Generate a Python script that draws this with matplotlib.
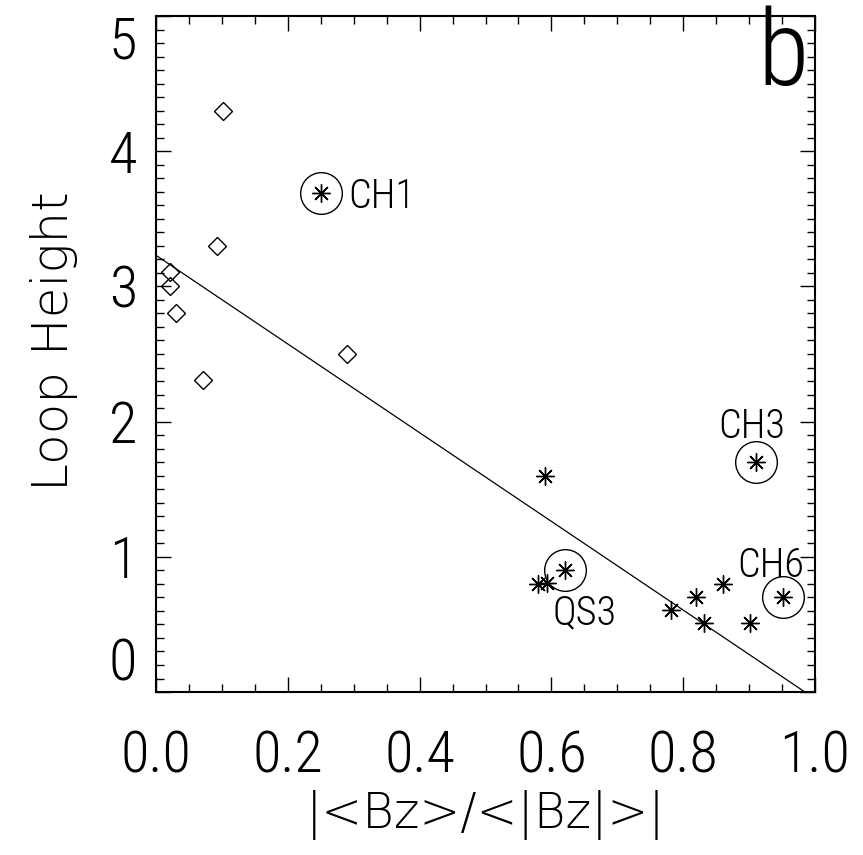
import numpy as np
import matplotlib
matplotlib.use("Agg")
import matplotlib.pyplot as plt
from matplotlib import font_manager

# Diamonds (one group) and asterisks (other group)
dia_x = [0.101, 0.092, 0.021, 0.021, 0.030, 0.072, 0.290]
dia_y = [4.30, 3.30, 3.11, 3.00, 2.80, 2.31, 2.50]

ast_x = [0.251, 0.591, 0.621, 0.579, 0.593, 0.781, 0.819, 0.832, 0.860, 0.901, 0.910, 0.951]
ast_y = [3.69, 1.60, 0.90, 0.80, 0.81, 0.61, 0.70, 0.51, 0.80, 0.51, 1.70, 0.70]

# Circled points and their labels
circ_x = [0.251, 0.910, 0.951, 0.621]
circ_y = [3.69, 1.70, 0.70, 0.90]
lab_names = ["CH1", "CH3", "CH6", "QS3"]
lab_x = [0.291, 0.853, 0.882, 0.602]
lab_y = [3.58, 1.88, 0.85, 0.50]

# Linear fit
fit_intercept = 3.23
fit_slope = -3.28

xticks = [0.0, 0.2, 0.4, 0.6, 0.8, 1.0]
xticklabels = ["0.0", "0.2", "0.4", "0.6", "0.8", "1.0"]
yticks = [0, 1, 2, 3, 4, 5]
yticklabels = ["0", "1", "2", "3", "4", "5"]


def pick_font(names, fallback="DejaVu Sans"):
    for name in names:
        try:
            font_manager.findfont(name, fallback_to_default=False)
            return name
        except Exception:
            pass
    return fallback


narrow = pick_font(["Roboto Condensed", "Liberation Sans Narrow", "Archivo Narrow"])
thin_w = 300

fig = plt.figure(figsize=(8.63, 8.55), dpi=100)
ax = fig.add_axes([0.1808, 0.1906, 0.7636, 0.7907])

ax.plot(dia_x, dia_y, linestyle="none", marker="D", ms=9.5,
        mfc="none", mec="black", mew=1.0)
ax.plot(ast_x, ast_y, linestyle="none", marker=(8, 2, 0), ms=13,
        mec="black", mew=1.0)
ax.plot(circ_x, circ_y, linestyle="none", marker="o", ms=30,
        mfc="none", mec="black", mew=1.0)

xf = np.array([0.0, -fit_intercept / fit_slope])
ax.plot(xf, fit_intercept + fit_slope * xf, color="black", lw=0.9)

for name, x, y in zip(lab_names, lab_x, lab_y):
    ax.text(x, y, name, family=narrow, weight=thin_w, fontsize=29,
            ha="left", va="baseline")

ax.text(0.913, 0.898, "b", transform=ax.transAxes, family=narrow,
        weight=thin_w, fontsize=76, ha="left", va="baseline")

ax.set_xlim(0, 1.0)
ax.set_ylim(0, 5)
ax.set_xticks(xticks)
ax.set_xticklabels(xticklabels, family=narrow, weight=thin_w, fontsize=42)
ax.set_xticks(np.arange(0, 1.0001, 0.05), minor=True)
ax.set_yticks(yticks)
ax.set_yticklabels(yticklabels, family=narrow, weight=thin_w, fontsize=42)
ax.set_yticks(np.arange(0, 5.0001, 0.1), minor=True)

ax.tick_params(which="both", direction="in", top=True, right=True, width=1.0)
ax.tick_params(which="major", length=11)
ax.tick_params(which="minor", length=5.5)
ax.tick_params(axis="x", which="major", pad=27)
ax.tick_params(axis="y", which="major", pad=13.5)

ylabs = ax.get_yticklabels()
ylabs[0].set_va("bottom")
ylabs[-1].set_va("top")

for s in ax.spines.values():
    s.set_linewidth(1.5)

ax.set_xlabel("|<Bz>/<|Bz|>|", fontsize=35, family="DejaVu Sans",
              weight=200, va="top")
ax.xaxis.set_label_coords(0.5, -0.145)
ax.set_ylabel("Loop Height", fontsize=36, family="DejaVu Sans", weight=200)
ax.yaxis.set_label_coords(-0.118, 0.519)

fig.savefig("out.png", dpi=100)
